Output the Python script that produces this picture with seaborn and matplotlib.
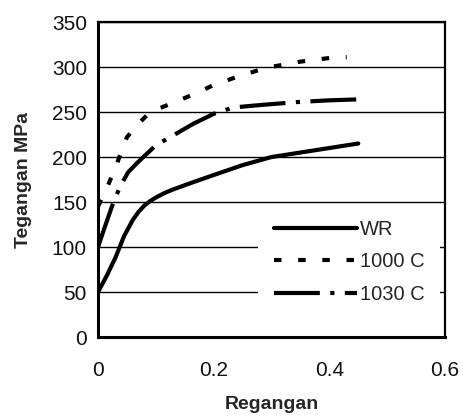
import pandas as pd
import seaborn as sns
from matplotlib import pyplot as plt

# strain (Regangan) / stress (Tegangan, MPa)
wr_x = [0, 0.015, 0.03, 0.045, 0.06, 0.07, 0.08, 0.09, 0.1, 0.115, 0.13, 0.16, 0.2, 0.25, 0.3, 0.35, 0.4, 0.45]
wr_y = [50, 68, 88, 112, 130, 139, 146, 151, 155, 160, 164, 171, 180, 191, 200, 205, 210, 215]

c1000_x = [0, 0.015, 0.033, 0.043, 0.05, 0.067, 0.09, 0.133, 0.17, 0.2, 0.24, 0.29, 0.35, 0.4, 0.43]
c1000_y = [145, 165, 193, 211, 222, 235, 250, 261, 271, 280, 289, 299, 306, 310, 311]

c1030_x = [0, 0.01, 0.024, 0.038, 0.052, 0.067, 0.08, 0.1, 0.13, 0.165, 0.2, 0.233, 0.285, 0.343, 0.4, 0.448]
c1030_y = [100, 119, 145, 167, 183, 193, 201, 213, 224, 237, 248, 255, 258, 261, 263, 264]

labels = ["WR", "1000 C", "1030 C"]
x_ticks = [0, 0.2, 0.4, 0.6]
y_ticks = [0, 50, 100, 150, 200, 250, 300, 350]

df = pd.DataFrame({
    "Regangan": wr_x + c1000_x + c1030_x,
    "Tegangan": wr_y + c1000_y + c1030_y,
    "Sampel": [labels[0]] * len(wr_x) + [labels[1]] * len(c1000_x) + [labels[2]] * len(c1030_x),
})

sns.set_theme(style="white")
plt.rcParams["font.family"] = ["Liberation Sans", "DejaVu Sans"]

fig = plt.figure(figsize=(4.63, 4.17), dpi=100)
ax = fig.add_axes([0.2117, 0.1918, 0.7495, 0.7554])

for v in y_ticks[1:]:
    ax.axhline(v, color="black", linewidth=1.0, zorder=0)

sns.lineplot(data=df, x="Regangan", y="Tegangan", style="Sampel", color="black",
             dashes={"WR": "", "1000 C": (1.8, 4), "1030 C": (11, 2.5, 1, 2.5)},
             estimator=None, sort=False, linewidth=3, ax=ax)

ax.set_xlim(0, 0.6)
ax.set_ylim(0, 350)
ax.set_xticks(x_ticks)
ax.set_xticklabels(["0", "0.2", "0.4", "0.6"])
ax.set_yticks(y_ticks)
ax.tick_params(axis="both", labelsize=15, direction="out", length=4, width=1.5,
               color="black", labelcolor="#111111", pad=4)
ax.tick_params(axis="x", pad=13)
ax.set_xlabel("Regangan", fontsize=14, fontweight="bold", labelpad=12)
ax.set_ylabel("Tegangan MPa", fontsize=14, fontweight="bold", labelpad=14)
for side in ["left", "bottom"]:
    ax.spines[side].set_linewidth(2.2)
    ax.spines[side].set_color("black")
for side in ["top", "right"]:
    ax.spines[side].set_linewidth(1.6)
    ax.spines[side].set_color("black")

leg = ax.legend(loc="center", bbox_to_anchor=(0.754, 0.372), bbox_transform=fig.transFigure,
                fontsize=14.5, handlelength=4.1, handletextpad=0.15, labelspacing=0.68,
                frameon=True, fancybox=False, borderpad=0.8)
leg.get_frame().set_facecolor("white")
leg.get_frame().set_edgecolor("none")
leg.get_frame().set_alpha(1)

fig.savefig("out.png", dpi=100)
